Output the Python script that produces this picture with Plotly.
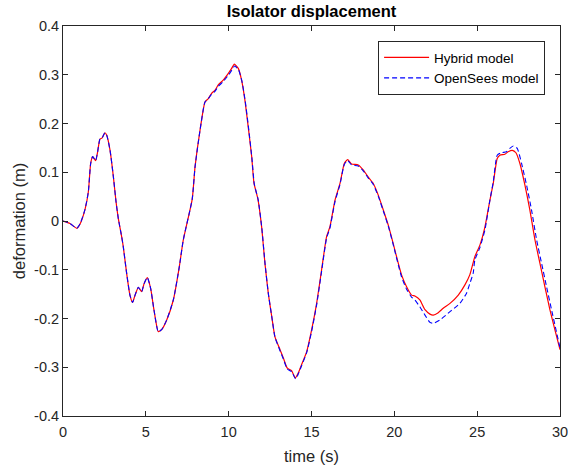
import plotly.graph_objects as go

# Hybrid model (red, solid)
time_hybrid = [0, 0.42, 0.83, 1.03, 1.33, 1.53, 1.67, 1.79, 1.97, 2.09, 2.23, 2.35, 2.53, 2.64, 2.84,
               3.04, 3.2, 3.34, 3.54, 3.64, 3.84, 4.04, 4.2, 4.35, 4.55, 4.75, 4.89, 5.09, 5.29, 5.49,
               5.75, 5.95, 6.26, 6.66, 7.02, 7.26, 7.8, 7.97, 8.27, 8.57, 8.77, 8.97, 9.17, 9.37, 9.67,
               9.98, 10.18, 10.34, 10.58, 10.78, 10.98, 11.18, 11.39, 11.53, 11.76, 11.99, 12.19, 12.39,
               12.6, 12.79, 13.1, 13.3, 13.54, 13.8, 14.02, 14.2, 14.4, 14.71, 15.01, 15.31, 15.61,
               15.91, 16.11, 16.42, 16.72, 16.98, 17.18, 17.42, 17.82, 18.12, 18.43, 18.73, 19.03,
               19.33, 19.63, 19.93, 20.24, 20.44, 20.74, 21.04, 21.24, 21.54, 21.85, 22.15, 22.35,
               22.65, 22.95, 23.36, 23.86, 24.26, 24.56, 24.86, 25.17, 25.47, 25.77, 25.97, 26.21,
               26.37, 26.67, 26.87, 27.12, 27.34, 27.58, 27.88, 28.18, 28.49, 28.79, 29.09, 29.39,
               29.69, 30.0]
disp_hybrid = [0, -0.005, -0.015, -0.006, 0.024, 0.06, 0.118, 0.132, 0.124, 0.142, 0.168, 0.17, 0.181,
               0.176, 0.145, 0.091, 0.04, 0.005, -0.032, -0.053, -0.107, -0.152, -0.167, -0.152, -0.136,
               -0.145, -0.129, -0.116, -0.138, -0.182, -0.227, -0.223, -0.203, -0.162, -0.094, -0.039,
               0.045, 0.111, 0.186, 0.244, 0.251, 0.262, 0.268, 0.279, 0.289, 0.303, 0.313, 0.322, 0.313,
               0.289, 0.248, 0.193, 0.132, 0.077, 0.046, -0.012, -0.087, -0.148, -0.196, -0.237, -0.264,
               -0.281, -0.302, -0.307, -0.322, -0.312, -0.295, -0.268, -0.223, -0.169, -0.1, -0.032,
               -0.012, 0.043, 0.077, 0.118, 0.126, 0.117, 0.115, 0.105, 0.09, 0.077, 0.053, 0.023,
               -0.008, -0.046, -0.087, -0.111, -0.135, -0.152, -0.154, -0.162, -0.182, -0.191, -0.193,
               -0.188, -0.179, -0.169, -0.152, -0.131, -0.11, -0.073, -0.049, -0.012, 0.043, 0.077,
               0.128, 0.135, 0.137, 0.142, 0.145, 0.14, 0.118, 0.074, 0.023, -0.039, -0.087, -0.135,
               -0.182, -0.223, -0.264]

# OpenSees model (blue, dashed)
time_opensees = [0, 0.42, 0.83, 1.03, 1.33, 1.53, 1.67, 1.79, 1.97, 2.09, 2.23, 2.35, 2.53, 2.64, 2.84,
                 3.04, 3.2, 3.34, 3.54, 3.64, 3.84, 4.04, 4.2, 4.35, 4.55, 4.75, 4.89, 5.09, 5.29, 5.49,
                 5.75, 5.95, 6.26, 6.66, 7.02, 7.26, 7.8, 7.97, 8.27, 8.57, 8.77, 8.97, 9.17, 9.37, 9.67,
                 9.98, 10.18, 10.36, 10.6, 10.8, 11.0, 11.2, 11.4, 11.55, 11.78, 12.0, 12.2, 12.4,
                 12.61, 12.8, 13.1, 13.3, 13.54, 13.8, 14.04, 14.2, 14.4, 14.71, 15.01, 15.31, 15.61,
                 15.91, 16.11, 16.42, 16.72, 16.98, 17.18, 17.42, 17.82, 18.12, 18.43, 18.73, 19.03,
                 19.33, 19.63, 19.93, 20.24, 20.44, 20.74, 21.04, 21.24, 21.54, 21.85, 22.15, 22.35,
                 22.75, 23.36, 23.96, 24.36, 24.56, 24.76, 24.86, 25.17, 25.47, 25.77, 25.97, 26.21,
                 26.47, 26.77, 26.97, 27.18, 27.42, 27.68, 27.98, 28.28, 28.59, 28.89, 29.19, 29.49,
                 29.79, 30.0]
disp_opensees = [0, -0.005, -0.015, -0.006, 0.024, 0.06, 0.118, 0.132, 0.124, 0.142, 0.168, 0.17, 0.181,
                 0.176, 0.145, 0.091, 0.04, 0.005, -0.032, -0.053, -0.107, -0.152, -0.167, -0.152, -0.136,
                 -0.145, -0.129, -0.116, -0.138, -0.182, -0.227, -0.223, -0.203, -0.162, -0.094, -0.039,
                 0.045, 0.111, 0.186, 0.244, 0.251, 0.26, 0.266, 0.276, 0.286, 0.299, 0.309, 0.318, 0.31,
                 0.287, 0.246, 0.191, 0.13, 0.075, 0.044, -0.014, -0.089, -0.15, -0.198, -0.239, -0.266,
                 -0.283, -0.304, -0.309, -0.324, -0.314, -0.297, -0.27, -0.226, -0.172, -0.103, -0.035,
                 -0.015, 0.04, 0.075, 0.116, 0.124, 0.115, 0.113, 0.103, 0.088, 0.075, 0.051, 0.021,
                 -0.01, -0.048, -0.09, -0.115, -0.14, -0.156, -0.162, -0.176, -0.193, -0.208, -0.21,
                 -0.203, -0.186, -0.169, -0.148, -0.128, -0.107, -0.08, -0.054, -0.018, 0.043, 0.08,
                 0.135, 0.14, 0.142, 0.149, 0.154, 0.149, 0.118, 0.074, 0.023, -0.039, -0.087, -0.135,
                 -0.182, -0.228, -0.26]

x_ticks = [0, 5, 10, 15, 20, 25, 30]
y_ticks = [-0.4, -0.3, -0.2, -0.1, 0, 0.1, 0.2, 0.3, 0.4]
y_ticklabels = ["-0.4", "-0.3", "-0.2", "-0.1", "0", "0.1", "0.2", "0.3", "0.4"]

FONT = "Liberation Sans, Arial, sans-serif"
AX = "#262626"

fig = go.Figure()
fig.add_trace(go.Scatter(x=time_hybrid, y=disp_hybrid, mode="lines", name="Hybrid model",
                         line=dict(color="#FF0000", width=1.2, shape="spline", smoothing=0.5)))
fig.add_trace(go.Scatter(x=time_opensees, y=disp_opensees, mode="lines", name="OpenSees model",
                         line=dict(color="#0000FF", width=1.1, dash="5px,3px", shape="spline", smoothing=0.5)))

axis_common = dict(showline=True, linecolor=AX, linewidth=1, mirror="ticks", ticks="inside",
                   ticklen=5, tickcolor=AX, showgrid=False, zeroline=False,
                   ticklabeloverflow="allow", automargin=False,
                   tickfont=dict(family=FONT, size=14.5, color=AX))

fig.update_layout(
    width=568, height=469,
    margin=dict(l=63, r=8, t=26, b=53),
    paper_bgcolor="white", plot_bgcolor="white",
    title=dict(text="<b>Isolator displacement</b>", xref="paper", x=0.5, xanchor="center",
               yref="container", y=0.989, yanchor="top", pad=dict(t=0, b=0),
               font=dict(family=FONT, size=16.5, color="black")),
    xaxis=dict(range=[0, 30], tickvals=x_ticks, ticktext=[str(v) for v in x_ticks],
               ticklabelstandoff=3,
               title=dict(text="time (s)", font=dict(family=FONT, size=16.5, color=AX), standoff=11),
               **axis_common),
    yaxis=dict(range=[-0.4, 0.4], tickvals=y_ticks, ticktext=y_ticklabels,
               title=dict(text="deformation (m)", font=dict(family=FONT, size=16.5, color=AX), standoff=4),
               **axis_common),
    legend=dict(x=0.97, y=0.9615, xanchor="right", yanchor="top", bgcolor="white",
                bordercolor="#262626", borderwidth=1, font=dict(family=FONT, size=13.5, color="black"),
                tracegroupgap=0, itemwidth=45),
    showlegend=True,
)

# Remove the browser's default 8px page margin so the figure sits at the window origin.
fig.write_html("out.html",
               config={"displayModeBar": False, "staticPlot": True},
               post_script="document.body.style.margin='0';document.body.style.overflow='hidden';")
